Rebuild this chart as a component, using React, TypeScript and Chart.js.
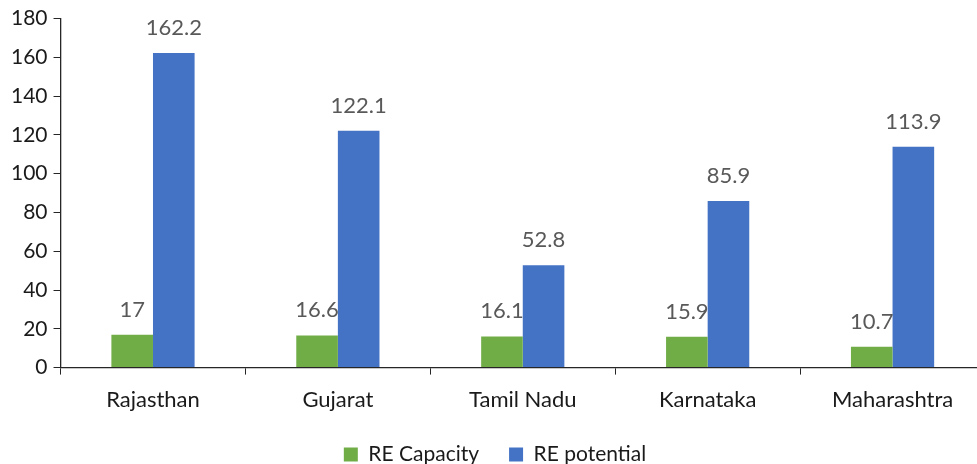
import React, { useEffect, useRef } from "react";
import { Chart, registerables } from "chart.js";

Chart.register(...registerables);

const categories = ["Rajasthan", "Gujarat", "Tamil Nadu", "Karnataka", "Maharashtra"];
const reCapacity = [17, 16.6, 16.1, 15.9, 10.7];
const rePotential = [162.2, 122.1, 52.8, 85.9, 113.9];
const yTicks = { min: 0, max: 180, step: 20 };

const FONT = "Lato, 'Open Sans', sans-serif";

const valueLabels = {
  id: "valueLabels",
  afterDatasetsDraw(chart: any) {
    const ctx = chart.ctx;
    ctx.save();
    ctx.font = `22px ${FONT}`;
    ctx.fillStyle = "#595959";
    ctx.textAlign = "center";
    ctx.textBaseline = "alphabetic";
    chart.data.datasets.forEach((ds: any, i: number) => {
      const meta = chart.getDatasetMeta(i);
      meta.data.forEach((el: any, j: number) => {
        ctx.fillText(String(ds.data[j]), el.x, el.y - 18);
      });
    });
    ctx.restore();
  },
};

export default function App() {
  const ref = useRef<HTMLCanvasElement>(null);
  useEffect(() => {
    const chart = new Chart(ref.current as HTMLCanvasElement, {
      type: "bar",
      data: {
        labels: categories,
        datasets: [
          { label: "RE Capacity", data: reCapacity, backgroundColor: "#70AD47" },
          { label: "RE potential", data: rePotential, backgroundColor: "#4472C4" },
        ],
      },
      options: {
        responsive: false,
        animation: false,
        maintainAspectRatio: false,
        datasets: { bar: { categoryPercentage: 0.45, barPercentage: 1 } },
        layout: { padding: { top: 10, right: 5, bottom: 0, left: 5 } },
        plugins: {
          tooltip: { enabled: false },
          legend: {
            position: "bottom",
            labels: {
              font: { family: FONT, size: 21 },
              color: "#1a1a1a",
              boxWidth: 14,
              boxHeight: 14,
              padding: 30,
            },
          },
        },
        scales: {
          x: {
            afterFit: (scale: any) => {
              scale.height -= 11;
            },
            grid: { drawOnChartArea: false, drawTicks: true, tickLength: 7, color: "#262626", offset: true },
            border: { display: true, color: "#262626", width: 1.3 },
            ticks: { font: { family: FONT, size: 22 }, color: "#1a1a1a", padding: 12 },
          },
          y: {
            min: yTicks.min,
            max: yTicks.max,
            grid: { drawOnChartArea: false, drawTicks: true, tickLength: 7, color: "#262626" },
            border: { display: true, color: "#262626", width: 1.3 },
            ticks: { stepSize: yTicks.step, font: { family: FONT, size: 21 }, color: "#1a1a1a", padding: 6 },
          },
        },
      },
      plugins: [valueLabels],
    });
    return () => chart.destroy();
  }, []);
  return (
    <div style={{ position: "fixed", left: 0, top: 0, width: 977, height: 464, overflow: "hidden", background: "#fff" }}>
      <canvas ref={ref} width={990} height={475} style={{ width: 990, height: 475 }} />
    </div>
  );
}
